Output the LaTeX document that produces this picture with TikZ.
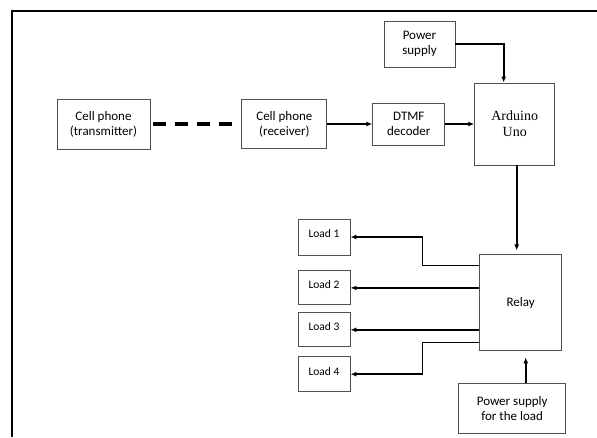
\documentclass[tikz,border=0pt]{standalone}
\usepackage{fontspec}
\setmainfont{Carlito}
\newfontfamily\arduinofont{Liberation Serif}
\usetikzlibrary{
  arrows.meta,
  positioning,
  calc
}
\definecolor{BoxGray}{RGB}{80,80,80}
\tikzset{
  blocknode/.style={draw=BoxGray,line width=0.9pt,inner sep=0pt,align=center,font=\fontsize{13}{15}\selectfont},
  loadnode/.style={draw=BoxGray,line width=0.9pt,inner sep=0pt,minimum width=52pt,align=center,text depth=6pt,font=\fontsize{11.5}{13}\selectfont},
  wirearrow/.style={-{Latex[length=6pt,width=5pt]},line width=1.6pt,draw=black},
  linkdash/.style={line width=4.5pt,dash pattern=on 13pt off 9pt,draw=black},
  framebar/.style={line width=1.8pt,draw=black}
}

\begin{document}
\begin{tikzpicture}[x=1pt,y=-1pt]
\useasboundingbox (0,0) rectangle (597,437);
\draw[framebar] (12,437) -- (12,11) -- (597,11);
% top row
\node[blocknode, minimum width=93pt, minimum height=50pt] (trans) at (103.5,124) {Cell phone\\(transmitter)};
\node[blocknode, minimum width=85pt, minimum height=49pt, right=91pt of trans] (recv) {Cell phone\\(receiver)};
\node[blocknode, minimum width=72pt, minimum height=42pt, right=45pt of recv] (dtmf) {DTMF\\decoder};
\node[blocknode, minimum width=80pt, minimum height=82pt, right=29pt of dtmf, font=\arduinofont\fontsize{14}{16}\selectfont] (uno) {Arduino\\Uno};
\node[blocknode, minimum width=71pt, minimum height=46pt] (supply) at (419.5,44) {Power\\supply};
% relay side
\node[blocknode, minimum width=82pt, minimum height=96pt, below=89pt of uno, xshift=6pt] (relay) {Relay};
\node[blocknode, minimum width=107pt, minimum height=50pt, below=32pt of relay, xshift=-8.5pt] (loadsupply) {Power supply\\for the load};
\node[loadnode, minimum height=36pt] (load1) at (324,237) {Load 1};
\node[loadnode, minimum height=34pt, below=15pt of load1] (load2) {Load 2};
\node[loadnode, minimum height=34pt, below=7pt of load2] (load3) {Load 3};
\node[loadnode, minimum height=35pt, below=9pt of load3] (load4) {Load 4};
% connections
\draw[linkdash] ([xshift=3pt]trans.east) -- ([xshift=-8pt]recv.west);
\draw[wirearrow] (recv.east) -- (recv.east -| dtmf.west);
\draw[wirearrow] (dtmf.east) -- (dtmf.east -| uno.west);
\draw[wirearrow] (supply.east) -| ([xshift=-11pt]uno.north);
\draw[wirearrow, shorten >=4pt] ([xshift=2pt]uno.south) -- ([xshift=-4pt]relay.north);
\draw[wirearrow, shorten >=6pt] ([xshift=13.5pt]loadsupply.north) -- ([xshift=5pt]relay.south);
\draw[wirearrow] ([yshift=-11pt]relay.north west) -| ($(load1.east)+(72pt,0)$) -- (load1.east);
\draw[wirearrow] (relay.west |- load2.east) -- (load2.east);
\draw[wirearrow] (relay.west |- load3.east) -- (load3.east);
\draw[wirearrow] ([yshift=9pt]relay.south west) -| ($(load4.east)+(72pt,0)$) -- (load4.east);
\end{tikzpicture}
\end{document}
